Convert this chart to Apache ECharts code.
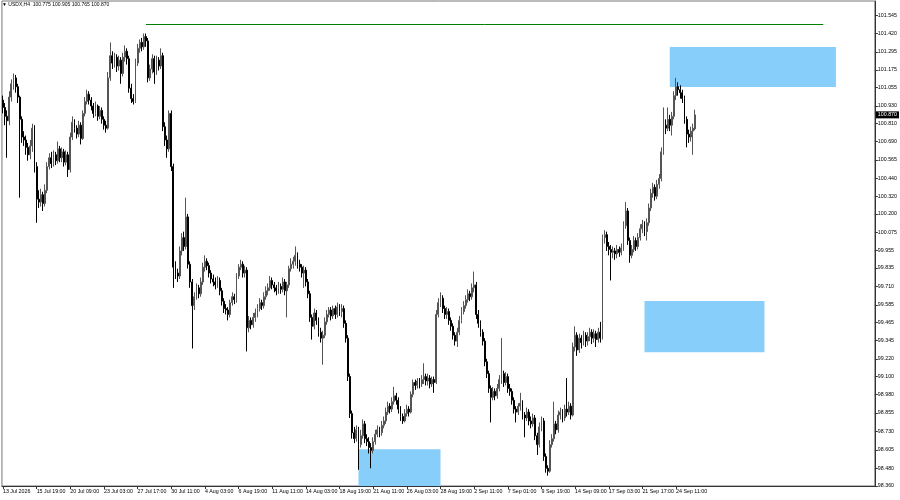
<!DOCTYPE html>
<html>
<head>
<meta charset="utf-8">
<script src="https://cdn.jsdelivr.net/npm/echarts@6/dist/echarts.min.js"></script>
<style>
html,body{margin:0;padding:0;background:#fff;}
#chart{width:900px;height:500px;}
</style>
</head>
<body>
<div id="chart"></div>
<script>
const symbolName = 'USDX,H4';

const xTickLabels = ['13 Jul 2026','15 Jul 19:00','20 Jul 09:00','23 Jul 03:00','27 Jul 17:00','30 Jul 11:00',
  '4 Aug 03:00','6 Aug 19:00','11 Aug 11:00','14 Aug 03:00','18 Aug 19:00','21 Aug 11:00','26 Aug 03:00',
  '28 Aug 19:00','2 Sep 11:00','7 Sep 01:00','9 Sep 19:00','14 Sep 09:00','17 Sep 03:00','21 Sep 17:00','24 Sep 11:00'];
const barsPerXTick = 16;

const yTickValues = [101.545,101.420,101.295,101.175,101.055,100.930,100.810,100.690,100.565,100.440,100.320,100.200,
  100.075,99.955,99.835,99.710,99.585,99.465,99.345,99.220,99.100,98.980,98.855,98.730,98.605,98.480,98.360];

const openP = [
100.97,100.92,100.86,100.83,100.99,101.08,101.12,101.06,100.99,100.84,
100.72,100.70,100.65,100.60,100.66,100.78,100.52,100.30,100.28,100.33,
100.27,100.36,100.52,100.58,100.54,100.60,100.56,100.64,100.58,100.62,
100.55,100.60,100.50,100.72,100.82,100.78,100.74,100.80,100.71,100.88,
100.96,101.01,100.97,100.93,100.88,100.93,100.86,100.90,100.84,100.80,
100.78,101.12,101.27,101.22,101.26,101.20,101.24,101.15,101.26,101.30,
101.25,101.05,100.98,100.96,101.22,101.32,101.36,101.33,101.40,101.37,
101.12,101.18,101.25,101.16,101.24,101.20,101.27,100.79,100.70,100.64,
100.88,100.52,99.84,99.80,99.78,99.95,100.04,99.98,100.18,99.86,
99.74,99.58,99.64,99.70,99.66,99.74,99.84,99.88,99.85,99.80,
99.76,99.74,99.72,99.75,99.68,99.61,99.56,99.55,99.52,99.60,
99.64,99.62,99.78,99.84,99.86,99.80,99.82,99.43,99.48,99.45,
99.50,99.53,99.56,99.60,99.58,99.64,99.68,99.70,99.75,99.72,
99.70,99.68,99.71,99.69,99.74,99.68,99.72,99.83,99.86,99.88,
99.92,99.86,99.84,99.80,99.82,99.74,99.66,99.50,99.44,99.53,
99.48,99.40,99.36,99.38,99.47,99.52,99.55,99.51,99.56,99.52,
99.57,99.54,99.56,99.46,99.36,99.10,98.85,98.72,98.68,98.74,
98.64,98.70,98.78,98.68,98.66,98.62,98.60,98.66,98.71,98.74,
98.72,98.77,98.80,98.86,98.90,98.88,98.93,98.97,98.94,98.88,
98.83,98.80,98.85,98.88,98.86,98.98,99.06,99.04,99.07,99.05,
99.08,99.10,99.07,99.09,99.05,99.08,99.06,99.52,99.60,99.63,
99.56,99.52,99.54,99.48,99.44,99.38,99.34,99.40,99.48,99.54,
99.58,99.62,99.66,99.64,99.70,99.72,99.52,99.46,99.40,99.34,
99.20,99.12,99.02,98.96,99.00,98.97,99.02,99.08,99.12,99.06,
99.10,99.02,99.00,98.94,98.88,98.86,98.90,98.92,98.84,98.82,
98.86,98.80,98.78,98.82,98.70,98.64,98.76,98.80,98.56,98.48,
98.46,98.64,98.68,98.78,98.74,98.84,98.86,98.82,98.88,98.86,
98.90,98.84,99.30,99.38,99.28,99.36,99.33,99.38,99.34,99.37,
99.40,99.36,99.39,99.35,99.40,99.36,100.04,100.06,99.98,99.96,
99.94,99.95,99.93,99.96,99.94,99.97,100.12,100.22,100.02,99.92,
99.96,100.02,99.98,100.04,100.10,100.13,100.08,100.14,100.24,100.34,
100.38,100.32,100.40,100.44,100.62,100.80,100.78,100.84,100.80,100.86,
101.00,101.06,101.04,101.02,100.98,100.84,100.74,100.72,100.76,100.775
];

const closeP = [
100.92,100.86,100.83,100.99,101.08,101.12,101.06,100.99,100.84,100.72,
100.70,100.65,100.60,100.66,100.78,100.52,100.30,100.28,100.33,100.27,
100.36,100.52,100.58,100.54,100.60,100.56,100.64,100.58,100.62,100.55,
100.60,100.50,100.72,100.82,100.78,100.74,100.80,100.71,100.88,100.96,
101.01,100.97,100.93,100.88,100.93,100.86,100.90,100.84,100.80,100.78,
101.12,101.27,101.22,101.26,101.20,101.24,101.15,101.26,101.30,101.25,
101.05,100.98,100.96,101.22,101.32,101.36,101.33,101.40,101.37,101.12,
101.18,101.25,101.16,101.24,101.20,101.27,100.79,100.70,100.64,100.88,
100.52,99.84,99.80,99.78,99.95,100.04,99.98,100.18,99.86,99.74,
99.58,99.64,99.70,99.66,99.74,99.84,99.88,99.85,99.80,99.76,
99.74,99.72,99.75,99.68,99.61,99.56,99.55,99.52,99.60,99.64,
99.62,99.78,99.84,99.86,99.80,99.82,99.43,99.48,99.45,99.50,
99.53,99.56,99.60,99.58,99.64,99.68,99.70,99.75,99.72,99.70,
99.68,99.71,99.69,99.74,99.68,99.72,99.83,99.86,99.88,99.92,
99.86,99.84,99.80,99.82,99.74,99.66,99.50,99.44,99.53,99.48,
99.40,99.36,99.38,99.47,99.52,99.55,99.51,99.56,99.52,99.57,
99.54,99.56,99.46,99.36,99.10,98.85,98.72,98.68,98.74,98.64,
98.70,98.78,98.68,98.66,98.62,98.60,98.66,98.71,98.74,98.72,
98.77,98.80,98.86,98.90,98.88,98.93,98.97,98.94,98.88,98.83,
98.80,98.85,98.88,98.86,98.98,99.06,99.04,99.07,99.05,99.08,
99.10,99.07,99.09,99.05,99.08,99.06,99.52,99.60,99.63,99.56,
99.52,99.54,99.48,99.44,99.38,99.34,99.40,99.48,99.54,99.58,
99.62,99.66,99.64,99.70,99.72,99.52,99.46,99.40,99.34,99.20,
99.12,99.02,98.96,99.00,98.97,99.02,99.08,99.12,99.06,99.10,
99.02,99.00,98.94,98.88,98.86,98.90,98.92,98.84,98.82,98.86,
98.80,98.78,98.82,98.70,98.64,98.76,98.80,98.56,98.48,98.46,
98.64,98.68,98.78,98.74,98.84,98.86,98.82,98.88,98.86,98.90,
98.84,99.30,99.38,99.28,99.36,99.33,99.38,99.34,99.37,99.40,
99.36,99.39,99.35,99.40,99.36,100.04,100.06,99.98,99.96,99.94,
99.95,99.93,99.96,99.94,99.97,100.12,100.22,100.02,99.92,99.96,
100.02,99.98,100.04,100.10,100.13,100.08,100.14,100.24,100.34,100.38,
100.32,100.40,100.44,100.62,100.80,100.78,100.84,100.80,100.86,101.00,
101.06,101.04,101.02,100.98,100.84,100.74,100.72,100.76,100.78,100.870
];

const lowP = [
100.88,100.80,100.58,100.80,100.96,101.04,101.02,100.95,100.31,100.68,
100.66,100.60,100.56,100.57,100.62,100.48,100.14,100.24,100.25,100.22,
100.25,100.34,100.50,100.51,100.52,100.53,100.54,100.55,100.55,100.52,
100.53,100.45,100.48,100.70,100.75,100.71,100.72,100.67,100.70,100.86,
100.94,100.94,100.90,100.85,100.86,100.83,100.84,100.81,100.77,100.75,
100.77,101.10,101.18,101.19,101.16,101.17,101.08,101.13,101.23,101.21,
101.02,100.95,100.94,100.95,101.20,101.29,101.30,101.31,101.33,101.09,
101.10,101.15,101.08,101.14,101.17,101.18,100.76,100.66,100.58,100.62,
100.49,99.70,99.76,99.74,99.76,99.92,99.95,99.96,99.83,99.70,
99.29,99.55,99.62,99.63,99.64,99.72,99.81,99.82,99.77,99.73,
99.71,99.69,99.70,99.65,99.58,99.53,99.52,99.48,99.50,99.58,
99.59,99.60,99.76,99.82,99.77,99.77,99.27,99.40,99.42,99.43,
99.47,99.50,99.54,99.55,99.56,99.62,99.65,99.68,99.69,99.67,
99.65,99.66,99.66,99.67,99.65,99.50,99.70,99.81,99.83,99.85,
99.83,99.81,99.77,99.70,99.71,99.63,99.47,99.35,99.42,99.45,
99.37,99.33,99.18,99.36,99.45,99.50,99.48,99.49,99.49,99.50,
99.51,99.50,99.43,99.33,99.07,98.82,98.68,98.65,98.66,98.47,
98.62,98.68,98.65,98.63,98.58,98.48,98.58,98.64,98.69,98.69,
98.70,98.75,98.78,98.84,98.85,98.86,98.91,98.91,98.85,98.80,
98.78,98.79,98.83,98.83,98.85,98.96,99.01,99.02,99.02,99.03,
99.05,99.04,99.04,99.02,99.03,98.99,99.05,99.50,99.57,99.53,
99.49,99.49,99.45,99.41,99.35,99.31,99.30,99.38,99.46,99.52,
99.56,99.60,99.61,99.62,99.67,99.49,99.43,99.37,99.31,99.17,
99.09,98.99,98.79,98.94,98.94,98.95,99.00,99.05,99.03,99.04,
98.99,98.97,98.91,98.85,98.79,98.84,98.87,98.81,98.69,98.80,
98.77,98.75,98.76,98.67,98.57,98.62,98.73,98.53,98.45,98.43,
98.45,98.62,98.66,98.71,98.72,98.81,98.79,98.80,98.83,98.84,
98.81,98.83,99.27,99.24,99.26,99.29,99.31,99.30,99.31,99.34,
99.32,99.33,99.30,99.33,99.33,99.35,100.00,99.95,99.92,99.75,
99.90,99.89,99.90,99.91,99.92,99.95,100.10,99.99,99.87,99.90,
99.94,99.95,99.96,100.02,100.07,100.05,100.02,100.12,100.22,100.31,
100.29,100.30,100.37,100.42,100.60,100.74,100.76,100.76,100.73,100.84,
100.97,101.00,100.98,100.95,100.81,100.65,100.68,100.69,100.60,100.765
];

const highP = [
101.00,100.95,100.90,101.03,101.11,101.15,101.14,101.08,101.00,100.86,
100.76,100.73,100.68,100.70,100.81,100.80,100.55,100.36,100.37,100.35,
100.40,100.55,100.61,100.62,100.63,100.62,100.69,100.66,100.65,100.64,
100.63,100.62,100.75,100.86,100.84,100.80,100.83,100.82,100.90,100.99,
101.04,101.03,100.99,100.95,100.96,100.94,100.93,100.92,100.86,100.83,
101.16,101.36,101.30,101.29,101.28,101.27,101.26,101.29,101.34,101.32,
101.27,101.08,101.01,101.25,101.35,101.38,101.39,101.42,101.42,101.39,
101.21,101.28,101.27,101.27,101.26,101.32,101.29,100.82,100.73,100.90,
100.90,100.54,99.88,99.83,99.98,100.07,100.08,100.31,100.20,99.88,
99.76,99.67,99.73,99.72,99.77,99.87,99.92,99.90,99.87,99.82,
99.79,99.77,99.78,99.77,99.70,99.63,99.59,99.57,99.62,99.67,
99.66,99.80,99.86,99.89,99.88,99.85,99.84,99.51,99.50,99.53,
99.56,99.59,99.63,99.62,99.67,99.71,99.73,99.78,99.77,99.74,
99.72,99.74,99.73,99.77,99.76,99.74,99.85,99.90,99.91,99.98,
99.94,99.89,99.86,99.85,99.84,99.76,99.68,99.52,99.56,99.55,
99.50,99.43,99.41,99.50,99.55,99.57,99.57,99.58,99.58,99.60,
99.59,99.59,99.58,99.48,99.38,99.12,98.87,98.76,98.77,98.76,
98.74,98.81,98.80,98.71,98.69,98.65,98.69,98.74,98.77,98.76,
98.80,98.83,98.89,98.93,98.92,98.96,99.03,98.99,98.96,98.90,
98.85,98.88,98.91,98.90,99.00,99.08,99.08,99.09,99.09,99.11,
99.19,99.12,99.12,99.11,99.10,99.10,99.55,99.63,99.67,99.65,
99.58,99.57,99.56,99.50,99.46,99.40,99.43,99.51,99.57,99.61,
99.65,99.69,99.68,99.73,99.81,99.74,99.55,99.48,99.42,99.36,
99.22,99.14,99.04,99.03,99.02,99.05,99.11,99.36,99.14,99.13,
99.12,99.05,99.02,98.96,98.90,98.92,98.99,98.94,98.86,98.89,
98.88,98.83,98.85,98.84,98.72,98.79,98.83,98.82,98.58,98.50,
98.67,98.71,98.93,98.80,98.87,98.89,98.88,98.91,99.09,98.93,
98.92,99.33,99.44,99.40,99.39,99.38,99.41,99.40,99.40,99.43,
99.42,99.42,99.41,99.43,99.47,100.06,100.09,100.08,100.01,99.99,
99.98,99.97,99.99,99.98,100.00,100.15,100.28,100.24,100.04,99.99,
100.05,100.04,100.07,100.13,100.16,100.15,100.17,100.27,100.37,100.41,
100.40,100.43,100.47,100.65,100.92,100.84,100.92,100.87,100.89,101.03,
101.12,101.09,101.07,101.04,101.00,100.86,100.77,100.79,100.81,100.905
];

// horizontal level (bar index range, price)
const levelFrom = 68, levelTo = 390, levelPrice = 101.484;
// zones: [fromBar, toBar, upperPrice, lowerPrice]
const zoneA = [317, 396, 101.329, 101.058];
const zoneB = [305, 362, 99.611, 99.264];
const zoneC = [169, 208, 98.609, 98.36];

const slotCount = 415;
const font = 'Liberation Sans';
const fs = 5.3;
const titleFs = 5.0;

const last = openP.length - 1;
const categories = Array.from({length: slotCount}, (_, i) => String(i));
const candles = openP.map((o, i) => [o, closeP[i], lowP[i], highP[i]]);
const showTick = (i) => i % barsPerXTick === 0 && i / barsPerXTick < xTickLabels.length;
const zoneItem = (z) => [{coord: [String(z[0]), z[2]]}, {coord: [String(z[1]), z[3]]}];

const titleText = '\u25BC ' + symbolName + '  ' + openP[last].toFixed(3) + ' ' + highP[last].toFixed(3) + ' ' +
  lowP[last].toFixed(3) + ' ' + closeP[last].toFixed(3);

const chart = echarts.init(document.getElementById('chart'), null, {renderer: 'canvas'});
chart.setOption({
  animation: false,
  backgroundColor: '#fff',
  textStyle: {fontFamily: font},
  title: {
    text: titleText, left: 2, top: 2, padding: 0,
    textStyle: {fontSize: titleFs, fontWeight: 'normal', color: '#000', fontFamily: font}
  },
  grid: {left: 1, right: 25, top: 1, bottom: 14, show: true, borderColor: '#777', borderWidth: 1, backgroundColor: 'transparent'},
  xAxis: {
    type: 'category', data: categories, boundaryGap: true,
    axisLine: {show: true, lineStyle: {color: '#333', width: 1}},
    axisTick: {show: true, alignWithLabel: true, interval: (i) => showTick(i), length: 3, lineStyle: {color: '#333'}},
    axisLabel: {
      show: true, interval: (i) => showTick(i), align: 'left', margin: 3, hideOverlap: false,
      fontSize: fs, color: '#000', fontFamily: font,
      formatter: (v) => { const i = Number(v); return showTick(i) ? xTickLabels[i / barsPerXTick] : ''; }
    },
    splitLine: {show: false}
  },
  yAxis: {
    type: 'value', position: 'right', min: 98.36, max: 101.64, scale: true,
    axisLine: {show: true, lineStyle: {color: '#333', width: 1}},
    axisTick: {show: true, length: 3, customValues: yTickValues, lineStyle: {color: '#333'}},
    axisLabel: {show: true, customValues: yTickValues, margin: 3, fontSize: fs, color: '#000', fontFamily: font,
      formatter: (v) => v.toFixed(3)},
    splitLine: {show: false}
  },
  series: [{
    type: 'candlestick',
    data: candles,
    clip: false,
    barWidth: 1.4,
    itemStyle: {color: '#8c8c8c', color0: '#000', borderColor: '#555', borderColor0: '#000', borderWidth: 1},
    markArea: {
      silent: true,
      itemStyle: {color: '#87CEFA', opacity: 1},
      label: {show: false},
      data: [zoneItem(zoneA), zoneItem(zoneB), zoneItem(zoneC)]
    },
    markLine: {
      silent: true, symbol: 'none', animation: false,
      data: [
        [{coord: [String(levelFrom), levelPrice], lineStyle: {color: '#008000', width: 1, type: 'solid'}, label: {show: false}},
         {coord: [String(levelTo), levelPrice]}],
        {yAxis: closeP[last], lineStyle: {color: 'rgba(0,0,0,0)', width: 0},
          label: {show: true, position: 'end', distance: 1,
            formatter: closeP[last].toFixed(3), backgroundColor: '#000', color: '#fff', fontSize: fs, fontFamily: font,
            padding: [1, 2, 1, 2]}}
      ]
    }
  }]
});
</script>
</body>
</html>
